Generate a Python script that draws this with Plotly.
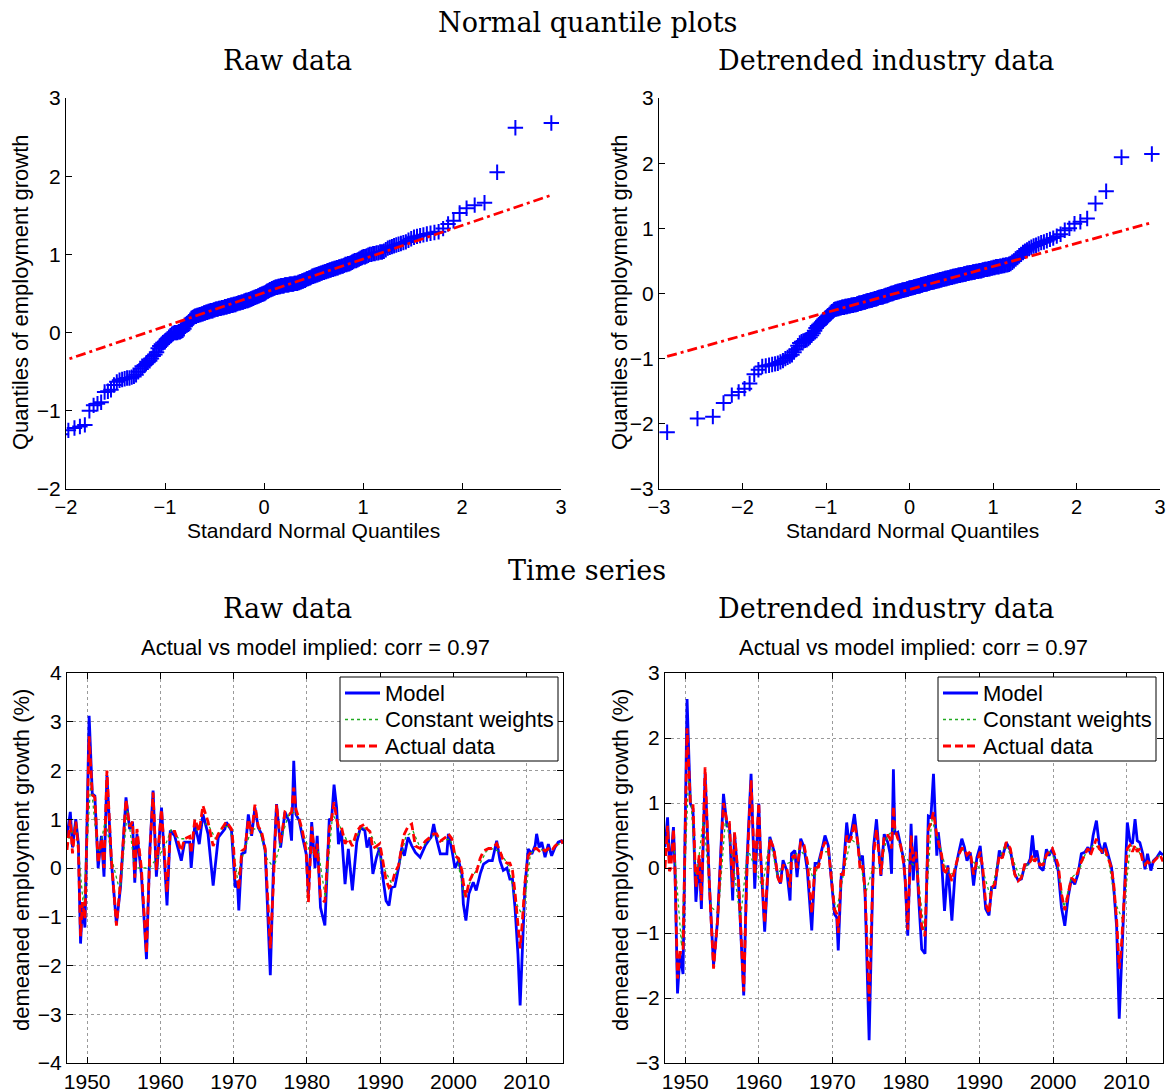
import plotly.graph_objects as go
import numpy as np
from statistics import NormalDist

# ---------------- QQ data (sorted sample quantiles) ----------------
qq_raw = [
    -1.9, -1.65, -1.5, -1.42, -1.35, -1.3,
    -1.25, -1.22, -1.2, -1.18,
    -1.0, -0.93, -0.91, -0.89, -0.76, -0.75, -0.73, -0.67, -0.63, -0.61,
    -0.6, -0.59, -0.58, -0.58, -0.57, -0.56, -0.54, -0.5, -0.46, -0.43,
    -0.42, -0.4, -0.38, -0.36, -0.33, -0.3, -0.28, -0.25, -0.2, -0.17,
    -0.15, -0.13, -0.12, -0.1, -0.08, -0.06, -0.04, -0.02, -0.01, 0.0,
    0.0, 0.0, 0.01, 0.01, 0.02, 0.03, 0.05, 0.08, 0.1, 0.12,
    0.14, 0.16, 0.18, 0.19, 0.2, 0.21, 0.21, 0.22, 0.22, 0.23,
    0.23, 0.24, 0.24, 0.25, 0.25, 0.26, 0.26, 0.27, 0.27, 0.28,
    0.28, 0.28, 0.29, 0.29, 0.3, 0.3, 0.3, 0.31, 0.31, 0.31,
    0.32, 0.32, 0.32, 0.33, 0.33, 0.33, 0.34, 0.34, 0.34, 0.35,
    0.35, 0.35, 0.36, 0.36, 0.36, 0.37, 0.37, 0.38, 0.38, 0.38,
    0.39, 0.39, 0.39, 0.4, 0.4, 0.41, 0.41, 0.41, 0.42, 0.42,
    0.43, 0.43, 0.44, 0.44, 0.45, 0.45, 0.46, 0.46, 0.47, 0.47, 0.48, 0.48, 0.49, 0.49, 0.5,
    0.5, 0.51, 0.52, 0.53, 0.53, 0.54, 0.55, 0.55, 0.56, 0.56, 0.57, 0.57, 0.58, 0.58, 0.58,
    0.59, 0.59, 0.59, 0.6, 0.6, 0.6, 0.6, 0.61, 0.61, 0.61,
    0.61, 0.61, 0.62, 0.62, 0.62, 0.62, 0.62, 0.63, 0.63, 0.63,
    0.63, 0.64, 0.64, 0.65, 0.65, 0.66, 0.66, 0.67, 0.67, 0.68,
    0.69, 0.69, 0.7, 0.7, 0.71, 0.72, 0.72, 0.73, 0.73, 0.74,
    0.74, 0.75, 0.75, 0.76, 0.76, 0.77, 0.77, 0.78, 0.78, 0.79,
    0.79, 0.8, 0.8, 0.81, 0.81, 0.82, 0.82, 0.83, 0.83, 0.84,
    0.84, 0.85, 0.85, 0.86, 0.87, 0.87, 0.88, 0.88, 0.89, 0.9,
    0.91, 0.92, 0.92, 0.93, 0.94, 0.95, 0.96, 0.97, 0.97, 0.98,
    0.99, 1.0, 1.0, 1.01, 1.01, 1.02, 1.02, 1.03, 1.03, 1.04,
    1.06, 1.08, 1.09, 1.1, 1.11, 1.12, 1.13, 1.14, 1.15, 1.16,
    1.18, 1.2, 1.22, 1.23, 1.24, 1.25, 1.26, 1.27, 1.28, 1.29,
    1.33, 1.39, 1.43, 1.53, 1.59, 1.63, 1.66, 2.05, 2.62, 2.68,
]

qq_det = [
    -2.13, -1.92, -1.89, -1.68, -1.56, -1.51, -1.46, -1.38, -1.24, -1.17,
    -1.12, -1.11, -1.1, -1.09, -1.08, -1.07, -1.05, -1.03, -1.0, -0.98,
    -0.96, -0.94, -0.9, -0.86, -0.8, -0.76, -0.74, -0.73, -0.72, -0.71,
    -0.69, -0.67, -0.64, -0.61, -0.57, -0.53, -0.5, -0.48, -0.46, -0.44,
    -0.42, -0.4, -0.38, -0.36, -0.34, -0.32, -0.3, -0.28, -0.27, -0.25,
    -0.24, -0.24, -0.23, -0.23, -0.22, -0.22, -0.21, -0.21, -0.21, -0.2,
    -0.2, -0.2, -0.19, -0.19, -0.19, -0.18, -0.18, -0.18, -0.17, -0.17,
    -0.17, -0.16, -0.16, -0.15, -0.15, -0.15, -0.14, -0.14, -0.13, -0.13,
    -0.13, -0.12, -0.12, -0.11, -0.11, -0.11, -0.1, -0.1, -0.1, -0.09,
    -0.09, -0.08, -0.08, -0.08, -0.07, -0.07, -0.06, -0.06, -0.06, -0.05,
    -0.05, -0.05, -0.04, -0.04, -0.03, -0.03, -0.03, -0.02, -0.02, -0.01,
    -0.01, 0.0, 0.0, 0.0, 0.01, 0.01, 0.02, 0.02, 0.02, 0.03,
    0.03, 0.03, 0.04, 0.04, 0.04, 0.05, 0.05, 0.05, 0.06, 0.06, 0.06, 0.07, 0.07, 0.07, 0.08,
    0.08, 0.08, 0.09, 0.09, 0.09, 0.1, 0.1, 0.1, 0.11, 0.11, 0.11, 0.12, 0.12, 0.12, 0.13,
    0.13, 0.13, 0.14, 0.14, 0.14, 0.15, 0.15, 0.15, 0.16, 0.16,
    0.16, 0.17, 0.17, 0.17, 0.18, 0.18, 0.18, 0.19, 0.19, 0.19,
    0.2, 0.2, 0.2, 0.21, 0.21, 0.21, 0.22, 0.22, 0.22, 0.23,
    0.23, 0.23, 0.24, 0.24, 0.24, 0.25, 0.25, 0.25, 0.26, 0.26,
    0.26, 0.27, 0.27, 0.27, 0.28, 0.28, 0.28, 0.29, 0.29, 0.29,
    0.3, 0.3, 0.3, 0.31, 0.31, 0.31, 0.32, 0.32, 0.32, 0.33,
    0.33, 0.33, 0.34, 0.34, 0.34, 0.35, 0.35, 0.35, 0.36, 0.36,
    0.37, 0.37, 0.37, 0.38, 0.38, 0.39, 0.39, 0.4, 0.4, 0.41,
    0.41, 0.41, 0.42, 0.42, 0.43, 0.43, 0.44, 0.44, 0.45, 0.46,
    0.48, 0.5, 0.53, 0.55, 0.58, 0.6, 0.63, 0.65, 0.67, 0.69,
    0.71, 0.73, 0.74, 0.76, 0.78, 0.79, 0.81, 0.83, 0.85, 0.88,
    0.91, 0.97, 1.0, 1.07, 1.1, 1.15, 1.38, 1.57, 2.09, 2.14,
]

# ---------------- Time series: raw data panel ----------------
dates_raw = [
    1947.25, 1947.45, 1947.7, 1948.0, 1948.45, 1948.8, 1949.1, 1949.35, 1949.7, 1950.27,
    1950.7, 1951.05, 1951.5, 1951.95, 1952.3, 1952.7, 1953.3, 1954.0, 1954.55, 1955.3,
    1955.8, 1956.2, 1956.5, 1956.8, 1957.4, 1958.1, 1958.55, 1959.0, 1959.45, 1960.15,
    1960.45, 1960.9, 1961.35, 1961.95, 1962.85, 1963.3, 1964.0, 1964.2, 1964.7, 1965.3,
    1965.8, 1966.5, 1967.2, 1967.9, 1968.8, 1969.0, 1969.7, 1970.0, 1970.2, 1970.5,
    1970.7, 1971.1, 1971.55, 1972.0, 1972.45, 1972.9, 1973.35, 1973.8, 1974.3, 1975.0,
    1975.4, 1975.85, 1976.4, 1977.0, 1977.6, 1977.9, 1978.2, 1978.5, 1978.95, 1979.4,
    1979.9, 1980.2, 1980.65, 1981.1, 1981.4, 1981.85, 1982.45, 1983.05, 1983.35, 1983.7,
    1984.05, 1984.3, 1984.7, 1985.2, 1985.65, 1986.2, 1986.8, 1987.3, 1987.9, 1988.2,
    1988.6, 1989.0, 1989.5, 1989.95, 1990.3, 1990.8, 1991.2, 1991.55, 1992.0, 1992.5,
    1992.95, 1993.3, 1993.8, 1994.3, 1994.8, 1995.45, 1996.15, 1996.6, 1996.95, 1997.3,
    1997.7, 1998.2, 1998.65, 1999.1, 1999.3, 1999.8, 2000.2, 2000.7, 2001.15, 2001.35,
    2001.7, 2002.1, 2002.7, 2003.1, 2003.65, 2004.1, 2004.8, 2005.3, 2005.9, 2006.35,
    2006.8, 2007.3, 2007.7, 2008.05, 2008.4, 2008.8, 2009.1, 2009.4, 2009.75, 2010.2,
    2010.7, 2011.15, 2011.35, 2011.7, 2012.05, 2012.5, 2012.95, 2013.4, 2013.85, 2014.3,
    2014.75, 2014.95,
]
model_raw = [
    0.65, 0.85, 1.15, 0.42, 1.0, 0.5, -1.55, -0.77, -1.22, 3.12,
    1.52, 1.48, 0.0, 0.66, -0.18, 1.9, 0.15, -1.15, -0.4, 1.45,
    0.8, 0.95, -0.3, 0.7, -0.12, -1.87, 0.36, 1.59, -0.18, 1.24,
    0.42, -0.77, 0.77, 0.66, 0.15, 0.53, 0.53, 0.0, 0.9, 0.49,
    1.1, 0.7, -0.36, 0.63, 0.8, 0.94, 0.77, 0.15, -0.4, -0.26,
    -0.87, 0.29, 0.32, 1.1, 0.66, 1.24, 0.83, 0.7, 0.36, -2.2,
    -0.12, 1.31, 0.42, 1.15, 0.94, 0.56, 2.2, 1.1, 0.97, 0.63,
    0.29, -0.53, 0.94, 0.0, 0.66, -0.81, -1.18, 1.01, 0.97, 1.71,
    1.24, 0.49, 0.77, -0.33, 0.39, -0.46, 0.53, 0.83, 0.77, 0.42,
    0.63, -0.12, 0.22, 0.42, -0.12, -0.67, -0.77, -0.4, -0.38, 0.0,
    0.42, 0.25, 0.63, 0.46, 0.32, 0.22, 0.46, 0.56, 0.63, 0.9,
    0.59, 0.29, 0.29, 0.29, 0.7, 0.36, 0.0, 0.15, -0.12, -0.74,
    -1.08, -0.53, -0.29, -0.46, -0.12, 0.08, 0.15, 0.15, 0.56, 0.15,
    -0.05, 0.0, -0.23, -0.23, -0.81, -1.76, -2.82, -1.56, -0.4, 0.39,
    0.29, 0.46, 0.7, 0.42, 0.53, 0.22, 0.49, 0.25, 0.42, 0.53,
    0.56, 0.5,
]
actual_raw = [
    0.37, 0.6, 1.0, 0.3, 0.95, 0.4, -1.4, -0.7, -1.05, 2.7,
    1.5, 1.45, 0.1, 0.6, 0.0, 2.0, 0.2, -1.18, -0.3, 1.4,
    0.85, 0.95, -0.2, 0.8, 0.0, -1.75, 0.3, 1.55, -0.05, 1.2,
    0.5, -0.5, 0.75, 0.75, 0.35, 0.6, 0.65, 0.3, 1.0, 0.75,
    1.28, 0.95, 0.45, 0.7, 0.9, 0.95, 0.8, 0.4, -0.2, -0.2,
    -0.45, 0.35, 0.4, 1.0, 0.7, 1.3, 0.85, 0.75, 0.4, -1.65,
    -0.4, 1.3, 0.5, 1.15, 1.1, 1.15, 1.65, 1.2, 1.0, 0.75,
    0.35, -0.7, 0.85, 0.2, 0.5, -0.6, -0.7, 0.8, 1.0, 1.35,
    1.0, 0.85, 0.85, 0.5, 0.6, 0.45, 0.75, 0.85, 0.9, 0.8,
    0.75, 0.4, 0.45, 0.5, 0.2, -0.25, -0.4, -0.35, -0.1, 0.05,
    0.45, 0.7, 0.85, 0.9, 0.45, 0.4, 0.55, 0.6, 0.65, 0.7,
    0.7, 0.55, 0.6, 0.65, 0.7, 0.6, 0.25, 0.2, -0.05, -0.3,
    -0.6, -0.3, -0.1, -0.1, 0.2, 0.35, 0.4, 0.4, 0.5, 0.35,
    0.15, 0.1, 0.1, -0.05, -0.5, -1.2, -1.65, -1.1, -0.3, 0.25,
    0.35, 0.4, 0.4, 0.35, 0.4, 0.35, 0.4, 0.35, 0.45, 0.5,
    0.55, 0.5,
]
years_cw = [1947.5 + k for k in range(68)]
constw_raw = [
    0.6, 0.9, -0.8, 1.8, 0.2, 1.0, 0.1, -0.5, 1.2, 0.0,
    0.0, 0.0, 0.2, 0.4, 0.8, 0.6, 0.6, 0.7, 0.9, 0.9,
    0.6, 0.85, 0.85, -0.2, 0.4, 0.8, 0.8, 0.2, 0.0, 0.6,
    1.1, 1.15, 0.7, 0.3, 0.4, -0.6, 1.1, 0.85, 0.55, 0.55,
    0.85, 0.75, 0.45, 0.0, -0.3, 0.0, 0.65, 0.75, 0.4, 0.55,
    0.7, 0.55, 0.6, 0.2, -0.6, -0.2, 0.05, 0.35, 0.4, 0.3,
    0.05, -0.7, -1.0, 0.3, 0.4, 0.35, 0.4, 0.5,
]

# ---------------- Time series: detrended industry data panel ----------------
dates_det = [
    1947.25, 1947.6, 1947.85, 1948.05, 1948.4, 1948.6, 1948.95, 1949.3, 1949.7, 1950.25,
    1950.7, 1951.05, 1951.45, 1951.9, 1952.2, 1952.7, 1953.3, 1953.85, 1954.4, 1955.2,
    1955.7, 1956.0, 1956.45, 1956.7, 1957.25, 1957.95, 1958.4, 1958.95, 1959.45, 1960.0,
    1960.2, 1960.8, 1961.5, 1962.05, 1962.6, 1962.95, 1963.3, 1963.8, 1964.25, 1964.45,
    1964.9, 1965.2, 1965.7, 1966.15, 1966.6, 1967.2, 1967.65, 1968.1, 1968.65, 1969.0,
    1969.45, 1969.9, 1970.3, 1970.6, 1970.8, 1971.2, 1971.5, 1971.95, 1972.25, 1972.55,
    1973.0, 1973.45, 1973.75, 1974.1, 1974.45, 1975.0, 1975.6, 1976.0, 1976.6, 1977.05,
    1977.55, 1977.85, 1978.05, 1978.3, 1978.5, 1978.9, 1979.2, 1979.65, 1979.9, 1980.25,
    1980.7, 1981.0, 1981.35, 1981.7, 1982.15, 1982.6, 1983.05, 1983.4, 1983.75, 1984.2,
    1984.4, 1984.85, 1985.25, 1985.7, 1986.25, 1986.7, 1987.15, 1987.6, 1987.95, 1988.3,
    1988.75, 1989.2, 1989.65, 1990.1, 1990.45, 1990.85, 1991.3, 1991.65, 1992.1, 1992.7,
    1993.1, 1993.65, 1994.2, 1994.8, 1995.25, 1995.7, 1996.15, 1996.6, 1996.9, 1997.2,
    1997.5, 1997.8, 1998.2, 1998.65, 1999.1, 1999.45, 1999.9, 2000.25, 2000.7, 2001.15,
    2001.6, 2002.05, 2002.5, 2002.95, 2003.4, 2003.85, 2004.3, 2004.75, 2005.1, 2005.45,
    2005.9, 2006.25, 2006.7, 2007.05, 2007.5, 2007.95, 2008.25, 2008.65, 2009.0, 2009.3,
    2009.7, 2010.1, 2010.45, 2010.8, 2011.15, 2011.45, 2011.8, 2012.2, 2012.5, 2012.85,
    2013.3, 2013.65, 2014.1, 2014.55, 2014.95,
]
model_det = [
    0.32, 0.78, 0.12, 0.12, 0.63, 0.02, -1.93, -1.32, -1.63, 2.6,
    0.99, 0.91, -0.52, 0.14, -0.63, 1.45, -0.29, -1.5, -0.8, 1.14,
    0.63, 0.68, -0.5, 0.53, -0.24, -1.96, 0.12, 1.45, -0.32, 0.99,
    0.32, -0.98, 0.48, 0.27, -0.14, -0.24, 0.12, -0.04, -0.5, 0.22,
    0.27, -0.14, 0.45, 0.32, -0.04, -0.96, 0.07, 0.07, 0.32, 0.5,
    0.34, -0.2, -0.71, -0.76, -1.27, -0.14, -0.04, 0.7, 0.39, 0.52,
    0.83, 0.39, 0.11, 0.19, -0.4, -2.65, 0.32, 0.75, -0.12, 0.52,
    0.39, 0.22, -0.09, 1.52, 0.52, 0.55, 0.37, 0.16, -0.19, -1.04,
    0.68, -0.19, 0.5, -0.4, -1.25, -1.32, 0.8, 0.78, 1.45, 0.19,
    0.55, 0.11, -0.66, 0.04, -0.81, -0.04, 0.22, 0.45, 0.32, 0.11,
    0.24, -0.27, 0.16, 0.34, -0.09, -0.63, -0.73, -0.3, -0.3, 0.27,
    0.16, 0.39, 0.27, -0.09, -0.19, -0.17, 0.04, 0.06, 0.14, 0.5,
    0.16, 0.27, 0.01, -0.04, 0.29, 0.19, 0.29, 0.16, -0.04, -0.61,
    -0.89, -0.45, -0.17, -0.25, -0.09, 0.22, 0.24, 0.32, 0.22, 0.5,
    0.73, 0.39, 0.22, 0.39, 0.19, 0.01, -0.3, -0.91, -2.32, -1.43,
    -0.4, 0.7, 0.42, 0.37, 0.75, 0.42, 0.39, 0.22, -0.02, 0.22,
    -0.04, 0.11, 0.16, 0.24, 0.2,
]
actual_det = [
    0.0, 0.65, -0.05, 0.0, 0.6, 0.0, -1.7, -1.3, -1.3, 2.15,
    1.0, 1.0, -0.3, 0.2, -0.5, 1.55, -0.3, -1.55, -0.8, 1.0,
    0.7, 0.7, -0.3, 0.55, -0.2, -1.9, 0.0, 1.35, -0.1, 1.0,
    0.3, -0.85, 0.45, 0.3, -0.15, -0.25, 0.05, 0.0, -0.3, 0.15,
    0.2, 0.0, 0.4, 0.35, 0.1, -0.7, 0.05, 0.0, 0.3, 0.4,
    0.3, -0.2, -0.65, -0.7, -1.0, -0.1, -0.1, 0.5, 0.4, 0.45,
    0.7, 0.4, 0.0, 0.05, -0.35, -2.05, 0.2, 0.6, -0.1, 0.5,
    0.5, 0.45, 0.3, 0.95, 0.6, 0.45, 0.4, 0.1, -0.15, -0.95,
    0.5, 0.1, 0.25, -0.3, -0.9, -1.05, 0.6, 0.7, 0.86, 0.5,
    0.4, 0.2, -0.1, 0.0, -0.2, 0.0, 0.2, 0.3, 0.3, 0.2,
    0.25, -0.1, 0.1, 0.25, 0.0, -0.55, -0.7, -0.3, -0.25, 0.2,
    0.15, 0.4, 0.3, -0.1, -0.2, -0.15, 0.05, 0.05, 0.1, 0.2,
    0.1, 0.15, 0.05, 0.05, 0.2, 0.25, 0.3, 0.2, 0.05, -0.4,
    -0.65, -0.4, -0.15, -0.2, -0.05, 0.1, 0.2, 0.3, 0.2, 0.3,
    0.45, 0.3, 0.25, 0.3, 0.15, 0.0, -0.25, -0.8, -1.55, -1.2,
    -0.4, 0.3, 0.35, 0.25, 0.35, 0.25, 0.3, 0.1, 0.05, 0.1,
    0.05, 0.1, 0.15, 0.2, 0.1,
]
constw_det = [
    0.4, 0.3, -1.2, 1.5, -0.2, 0.8, -0.6, -0.7, 0.8, 0.1,
    -0.8, 0.3, 0.0, -0.3, 0.45, -0.1, 0.05, 0.1, 0.3, 0.15,
    -0.2, 0.25, 0.25, -0.7, -0.1, 0.45, 0.35, -0.4, 0.0, 0.0,
    0.5, 0.6, 0.2, 0.1, 0.0, -1.0, 0.75, 0.4, -0.05, -0.1,
    0.3, 0.2, 0.05, -0.05, -0.45, 0.1, 0.35, 0.15, -0.15, 0.05,
    0.15, 0.05, 0.25, 0.1, -0.6, -0.15, -0.05, 0.25, 0.35, 0.3,
    0.15, -0.55, -0.8, 0.35, 0.3, 0.05, 0.1, 0.2,
]

series_names = ["Model", "Constant weights", "Actual data"]
xticks_qq_raw = [-2, -1, 0, 1, 2, 3]
xticks_qq_det = [-3, -2, -1, 0, 1, 2, 3]
year_ticks = [1950, 1960, 1970, 1980, 1990, 2000, 2010]

# ---------------- helpers ----------------
W, H = 1172, 1092
def px(x):
    return x / W
def py(y):
    return 1 - y / H

nd = NormalDist()
def qq_xy(sample):
    n = len(sample)
    xs = [nd.inv_cdf((i - 0.5) / n) for i in range(1, n + 1)]
    q1, q3 = np.percentile(sample, [25, 75])
    z1, z3 = nd.inv_cdf(0.25), nd.inv_cdf(0.75)
    slope = (q3 - q1) / (z3 - z1)
    icpt = q1 - slope * z1
    lx = [xs[0], xs[-1]]
    ly = [icpt + slope * v for v in lx]
    return xs, lx, ly

SANS = "Liberation Sans, Arial, Helvetica, sans-serif"
SERIF = "DejaVu Serif, serif"
BLUE = "#0000ff"
RED = "#ff0000"
GREEN = "#22aa22"
styles = [dict(color=BLUE, width=2.8),
          dict(color=GREEN, width=1.3, dash="dot"),
          dict(color=RED, width=2.8, dash="8px,4px")]

fig = go.Figure()

# QQ plots
for sample, xa, ya in [(qq_raw, "x", "y"), (qq_det, "x2", "y2")]:
    xs, lx, ly = qq_xy(sample)
    fig.add_trace(go.Scatter(x=xs, y=sample, mode="markers", xaxis=xa, yaxis=ya,
                             marker=dict(symbol="cross-thin", size=11, color=BLUE,
                                         line=dict(color=BLUE, width=2)),
                             showlegend=False))
    fig.add_trace(go.Scatter(x=lx, y=ly, mode="lines", xaxis=xa, yaxis=ya,
                             line=dict(color=RED, width=2.8, dash="10px,4px,3px,4px"),
                             showlegend=False))

# Time series
for (d, m, a, cw, xa, ya) in [
    (dates_raw, model_raw, actual_raw, constw_raw, "x3", "y3"),
    (dates_det, model_det, actual_det, constw_det, "x4", "y4"),
]:
    for xs_, ys_, nm, st in [(d, m, series_names[0], styles[0]),
                             (years_cw, cw, series_names[1], styles[1]),
                             (d, a, series_names[2], styles[2])]:
        fig.add_trace(go.Scatter(x=xs_, y=ys_, mode="lines", name=nm, xaxis=xa, yaxis=ya,
                                 line=st, showlegend=False))

base_axis = dict(showline=True, linecolor="black", linewidth=1, ticks="inside", ticklen=6,
                 tickcolor="black", tickwidth=1, zeroline=False,
                 showgrid=False, automargin=False)

def ax(domain, rng, tickvals, anchor, box=False, grid=False, fsize=21):
    d = dict(base_axis)
    d.update(domain=domain, range=rng, tickvals=tickvals, anchor=anchor, autorange=False,
             tickfont=dict(family=SANS, size=fsize, color="black"))
    if box:
        d.update(mirror="ticks")
    if grid:
        d.update(showgrid=True, gridcolor="#9a9a9a", gridwidth=1, griddash="dot")
    return d

top_y = [py(489), py(98)]
bot_y = [py(1063), py(673)]

fig.update_layout(
    width=W, height=H, autosize=False,
    margin=dict(l=0, r=0, t=0, b=0, autoexpand=False),
    paper_bgcolor="white", plot_bgcolor="white",
    xaxis=ax([px(66), px(561)], [-2, 3], xticks_qq_raw, "y", fsize=20),
    yaxis=ax(top_y, [-2, 3], [-2, -1, 0, 1, 2, 3], "x"),
    xaxis2=ax([px(659), px(1160)], [-3, 3], xticks_qq_det, "y2", fsize=20),
    yaxis2=ax(top_y, [-3, 3], [-3, -2, -1, 0, 1, 2, 3], "x2"),
    xaxis3=ax([px(67), px(563)], [1947.25, 2014.95], year_ticks, "y3", box=True, grid=True),
    yaxis3=ax(bot_y, [-4, 4], list(range(-4, 5)), "x3", box=True, grid=True),
    xaxis4=ax([px(665), px(1163)], [1947.25, 2014.95], year_ticks, "y4", box=True, grid=True),
    yaxis4=ax(bot_y, [-3, 3], list(range(-3, 4)), "x4", box=True, grid=True),
    showlegend=False,
)

def ann(text, x, y, font, size, angle=0, xanchor="center"):
    fig.add_annotation(text=text, x=px(x), y=py(y), xref="paper", yref="paper",
                       xanchor=xanchor, yanchor="middle", showarrow=False,
                       textangle=angle, font=dict(family=font, size=size, color="black"))

# Legends (box with sample lines and labels, one per time-series panel)
for left in (340, 938):
    fig.add_shape(type="rect", xref="paper", yref="paper",
                  x0=px(left), x1=px(left + 218), y0=py(761), y1=py(677),
                  line=dict(color="black", width=1), fillcolor="white", layer="above")
    for k, (nm, st) in enumerate(zip(series_names, styles)):
        yy = 693 + k * 26.5
        fig.add_shape(type="line", xref="paper", yref="paper",
                      x0=px(left + 5), x1=px(left + 40), y0=py(yy), y1=py(yy),
                      line=st, layer="above")
        ann(nm, left + 43, yy, SANS, 22, xanchor="left")

ann("Normal quantile plots", 587, 22, SERIF, 27)
ann("Raw data", 287, 60, SERIF, 27)
ann("Detrended industry data", 886, 60, SERIF, 27)
ann("Time series", 587, 570, SERIF, 27)
ann("Raw data", 287, 608, SERIF, 27)
ann("Detrended industry data", 886, 608, SERIF, 27)
ann("Actual vs model implied: corr = 0.97", 315, 647, SANS, 22)
ann("Actual vs model implied: corr = 0.97", 914, 647, SANS, 22)
ann("Standard Normal Quantiles", 313, 530, SANS, 21)
ann("Standard Normal Quantiles", 912, 530, SANS, 21)
ann("Quantiles of employment growth", 21, 292, SANS, 22, -90)
ann("Quantiles of employment growth", 620, 292, SANS, 22, -90)
ann("demeaned employment growth (%)", 21, 860, SANS, 22, -90)
ann("demeaned employment growth (%)", 620, 860, SANS, 22, -90)

fig.write_html("out.html")
